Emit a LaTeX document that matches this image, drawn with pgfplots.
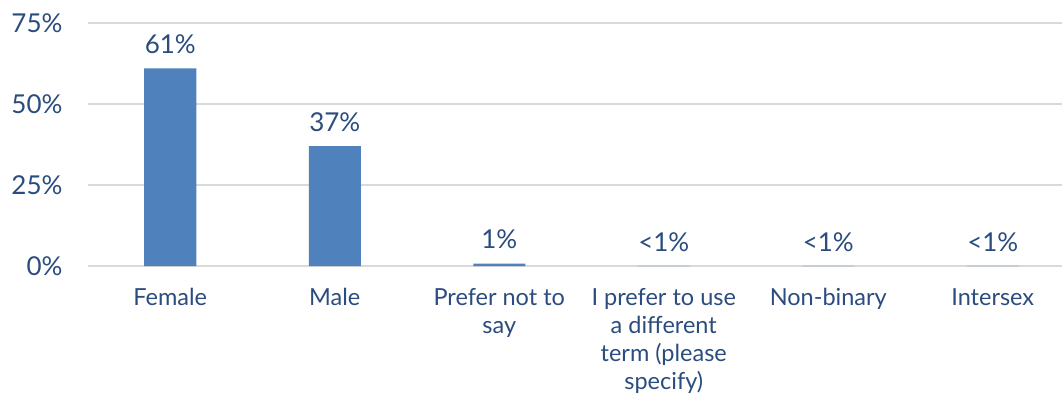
\documentclass[border=0pt]{standalone}
\usepackage{pgfplots}
\pgfplotsset{compat=1.18}
\usepackage{fontspec}
\setmainfont{Lato}
\definecolor{txt}{HTML}{2B4C7E}
\definecolor{barc}{HTML}{4F81BD}
\definecolor{gridc}{HTML}{D9D9D9}
\begin{document}
\begin{tikzpicture}[x=1pt,y=1pt]
\begin{axis}[
  at={(0,0)}, anchor=south west,
  scale only axis,
  width=974pt, height=243pt,
  xmin=-0.5, xmax=5.421,
  ymin=0, ymax=75,
  axis line style={draw=none},
  ytick={0,25,50,75},
  yticklabels={0\%,25\%,50\%,75\%},
  ymajorgrids, xmajorgrids=false,
  grid style={draw=gridc, line width=2pt},
  major tick length=0pt,
  xtick={0,1,2,3,4,5},
  xticklabels={Female, Male, {Prefer not to\\say}, {I prefer to use\\a different\\term (please\\specify)}, Non-binary, Intersex},
  xticklabel style={font=\fontsize{23.5}{28}\selectfont, text=txt, align=center, anchor=north, yshift=-19pt},
  yticklabel style={font=\fontsize{26}{30}\selectfont, text=txt, anchor=east, xshift=-22pt},
  ybar, bar width=52pt,
  nodes near coords,
  point meta=explicit symbolic,
  every node near coord/.append style={font=\fontsize{26}{30}\selectfont, text=txt, anchor=south, yshift=11pt},
  clip=false,
]
\addplot[fill=barc, draw=none] coordinates {
  (0,61) [61\%]
  (1,37) [37\%]
  (2,0.7) [1\%]
  (3,0.02) [<1\%]
  (4,0.02) [<1\%]
  (5,0.02) [<1\%]
};
\end{axis}
\pgfresetboundingbox
\path[use as bounding box] (-88,-130) rectangle (974,266);
\end{tikzpicture}
\end{document}
